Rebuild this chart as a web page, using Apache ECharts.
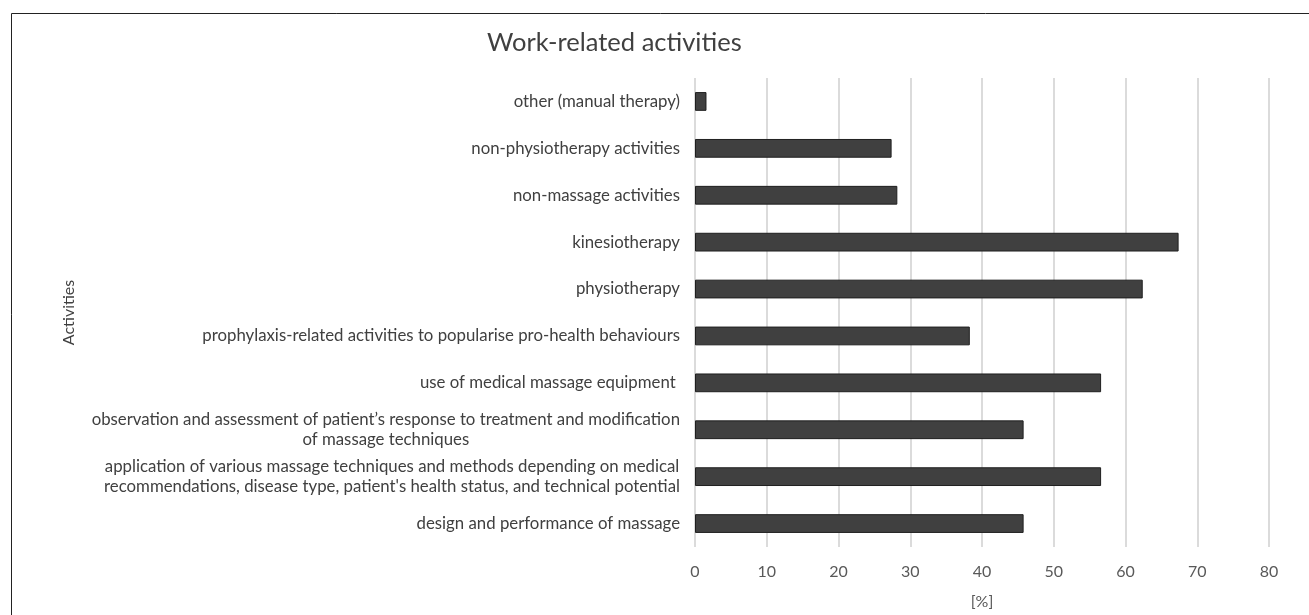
<!DOCTYPE html>
<html>
<head>
<meta charset="utf-8">
<script src="https://cdn.jsdelivr.net/npm/echarts@6/dist/echarts.min.js"></script>
<style>
html,body{margin:0;padding:0;background:#fff;}
#chart{width:1309px;height:615px;}
</style>
</head>
<body>
<div id="chart"></div>
<script>
var categories = [
  "other (manual therapy)",
  "non-physiotherapy activities",
  "non-massage activities",
  "kinesiotherapy",
  "physiotherapy",
  "prophylaxis-related activities to popularise pro-health behaviours",
  "use of medical massage equipment ",
  "observation and assessment of patient’s response to treatment and modification\nof massage techniques",
  "application of various massage techniques and methods depending on medical\nrecommendations, disease type, patient's health status, and technical potential",
  "design and performance of massage"
];
var values = [1.6, 27.4, 28.2, 67.4, 62.4, 38.3, 56.6, 45.8, 56.6, 45.8];
var xTicks = [0, 10, 20, 30, 40, 50, 60, 70, 80];

var FONT = 'Lato, "Open Sans", sans-serif';
var chart = echarts.init(document.getElementById('chart'), null, {renderer: 'canvas'});
chart.setOption({
  backgroundColor: '#ffffff',
  animation: false,
  title: {
    text: 'Work-related activities',
    left: 482, top: 25,
    textStyle: {fontFamily: FONT, fontSize: 25.5, fontWeight: 'normal', color: '#404040'}
  },
  graphic: [{
    type: 'rect', silent: true,
    shape: {x: 11.5, y: 13.5, width: 1400, height: 700},
    style: {fill: 'none', stroke: '#222', lineWidth: 1}
  }],
  grid: {left: 695, right: 40, top: 78, bottom: 64, containLabel: false},
  xAxis: {
    type: 'value', min: xTicks[0], max: xTicks[xTicks.length - 1], interval: 10,
    name: '[%]', nameLocation: 'middle', nameGap: 47,
    nameTextStyle: {fontFamily: FONT, fontSize: 16, color: '#595959'},
    axisLine: {show: false}, axisTick: {show: false},
    axisLabel: {fontFamily: FONT, fontSize: 16, color: '#595959', margin: 17},
    splitLine: {show: true, lineStyle: {color: '#cfcfcf', width: 1.5}}
  },
  yAxis: {
    type: 'category', inverse: true, data: categories,
    name: 'Activities', nameLocation: 'middle', nameRotate: 90, nameGap: 618,
    nameTextStyle: {fontFamily: FONT, fontSize: 16, color: '#404040'},
    axisLine: {show: false}, axisTick: {show: false},
    axisLabel: {
      fontFamily: FONT, fontSize: 16.8, color: '#404040', margin: 15, lineHeight: 20,
      formatter: function (v) {
        return v.split('\n').map(function (s) { return '{c|' + s + '}'; }).join('\n');
      },
      rich: {c: {align: 'center', fontFamily: FONT, fontSize: 16.8, color: '#404040', lineHeight: 20}}
    }
  },
  series: [{
    type: 'bar', data: values, barCategoryGap: '60%',
    itemStyle: {color: '#404040', borderColor: '#1f1f1f', borderWidth: 1}
  }]
});
</script>
</body>
</html>
